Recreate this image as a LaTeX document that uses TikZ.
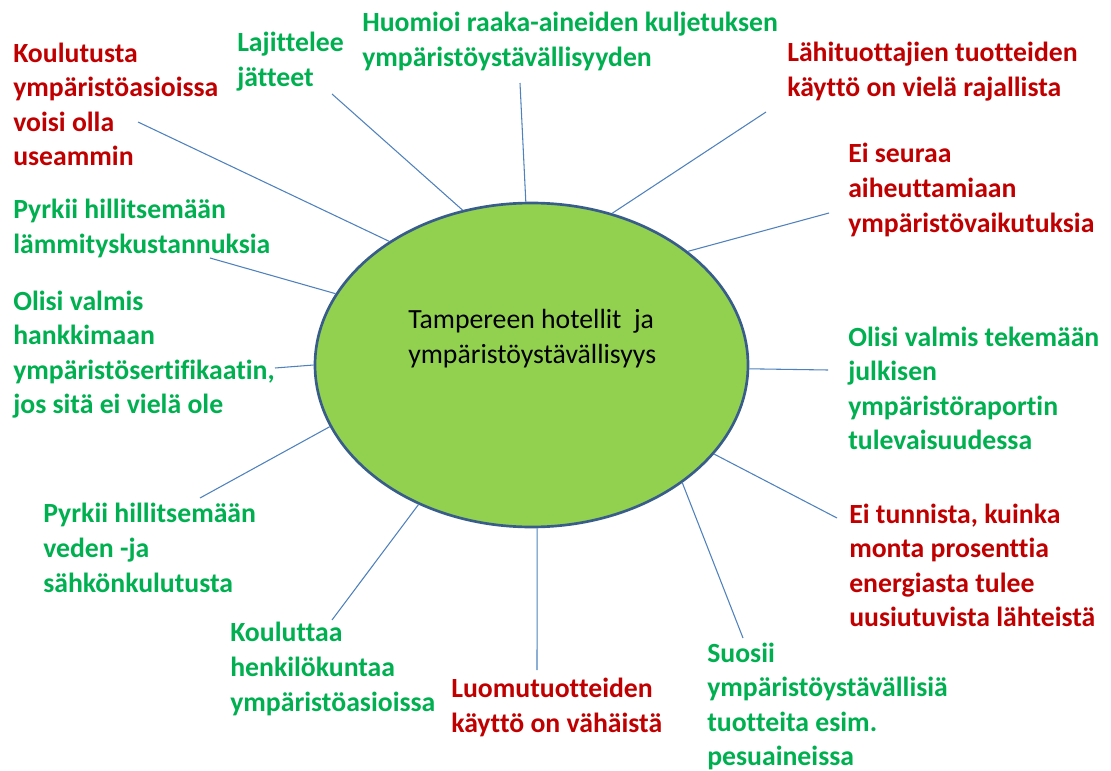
\documentclass[tikz,border=0pt]{standalone}
\usepackage{fontspec}
\setmainfont{Carlito}[Ligatures=NoCommon]
\usetikzlibrary{shapes.geometric}
\definecolor{tred}{HTML}{C00000}
\definecolor{tgreen}{HTML}{00B050}
\definecolor{spoke}{HTML}{4F81BD}
\definecolor{ellfill}{HTML}{92D050}
\definecolor{ellline}{HTML}{385D8A}
\tikzset{
  lbl/.style={anchor=base west, inner sep=0pt, align=left, font=\fontsize{20.8}{25.9}\selectfont\bfseries},
  redlbl/.style={lbl, text=tred},
  greenlbl/.style={lbl, text=tgreen},
  spokeline/.style={draw=spoke, line width=0.8pt},
  hub/.style={ellipse, draw=ellline, line width=2pt, fill=ellfill, inner sep=0pt, minimum width=324.75pt, minimum height=243pt}
}
\begin{document}
\begin{tikzpicture}[x=0.75pt,y=-0.75pt]
\useasboundingbox (0,0) rectangle (1111,771);
\node[hub] (ell) at (531.5,365) {};
\node[anchor=base west, inner sep=0pt, align=left, font=\fontsize{20.8}{26.25}\selectfont] (ct) at (408,363) {Tampereen hotellit\ \ ja\\ympäristöystävällisyys};

% anchors are at the baseline of the last line of each label
\node[redlbl] (t1) at (13,165.6) {Koulutusta\\ympäristöasioissa\\voisi olla\\useammin};
\node[greenlbl] (t2) at (237,86.5) {Lajittelee\\jätteet};
\node[greenlbl] (t3) at (362,66.5) {Huomioi raaka-aineiden kuljetuksen\\ympäristöystävällisyyden};
\node[redlbl] (t4) at (787,96.5) {Lähituottajien tuotteiden\\käyttö on vielä rajallista};
\node[redlbl] (t5) at (848,232) {Ei seuraa\\aiheuttamiaan\\ympäristövaikutuksia};
\node[greenlbl] (t6) at (13,253.5) {Pyrkii hillitsemään\\lämmityskustannuksia};
\node[greenlbl] (t7) at (13,413.6) {Olisi valmis\\hankkimaan\\ympäristösertifikaatin,\\jos sitä ei vielä ole};
\node[greenlbl] (t8) at (848,449.6) {Olisi valmis tekemään\\julkisen\\ympäristöraportin\\tulevaisuudessa};
\node[greenlbl] (t9) at (43,592) {Pyrkii hillitsemään\\veden -ja\\sähkönkulutusta};
\node[redlbl] (t10) at (849,626.6) {Ei tunnista, kuinka\\monta prosenttia\\energiasta tulee\\uusiutuvista lähteistä};
\node[greenlbl] (t11) at (230,711) {Kouluttaa\\henkilökuntaa\\ympäristöasioissa};
\node[redlbl] (t12) at (451,732.5) {Luomutuotteiden\\käyttö on vähäistä};
\node[greenlbl] (t13) at (707,765.6) {Suosii\\ympäristöystävällisiä\\tuotteita esim.\\pesuaineissa};

\coordinate (a) at (138,122);
\coordinate (b) at (332,94);
\coordinate (c) at (520,83);
\coordinate (d) at (766,112);
\coordinate (e) at (829,213);
\coordinate (f) at (210,258);
\coordinate (g) at (275,368);
\coordinate (h) at (200,498);
\coordinate (i) at (332,620);
\coordinate (j) at (828,370);
\coordinate (k) at (837,518);
\coordinate (l) at (743,638);
\coordinate (m) at (537,670);

\draw[spokeline] (a) -- (ell.139.4);
\draw[spokeline] (b) -- (ell.114.4);
\draw[spokeline] (c) -- (ell.92.7);
\draw[spokeline] (d) -- (ell.62.8);
\draw[spokeline] (e) -- (ell.36.1);
\draw[spokeline] (f) -- (ell.160.9);
\draw[spokeline] (g) -- (ell.180.3);
\draw[spokeline] (h) -- (ell.197.4);
\draw[spokeline] (i) -- (ell.231.5);
\draw[spokeline] (j) -- (ell.359.7);
\draw[spokeline] (k) -- (ell.334);
\draw[spokeline] (l) -- (ell.322.3);
\draw[spokeline] (m) -- (ell.272);
\end{tikzpicture}
\end{document}
